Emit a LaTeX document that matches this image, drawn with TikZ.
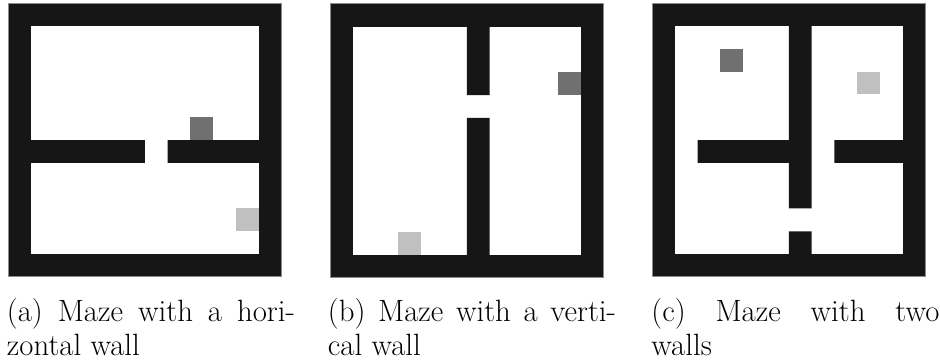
\documentclass[tikz,border=0pt]{standalone}
\usepackage{tikz}

\definecolor{wallc}{HTML}{161616}
\definecolor{edgec}{HTML}{8C8C8C}
\definecolor{startc}{HTML}{707070}
\definecolor{goalc}{HTML}{C0C0C0}

\tikzset{
  mazewall/.style={fill=wallc},
  mazeedge/.style={draw=edgec, line width=0.5pt},
  mazefloor/.style={fill=white},
  startcell/.style={fill=startc},
  goalcell/.style={fill=goalc},
  subcap/.style={inner sep=0pt, anchor=base west, font=\fontsize{15.4}{16.9}\selectfont},
  grid12/.style={x=11.4pt, y=-11.4pt}
}

\newcommand{\capbox}[1]{\parbox[t]{144pt}{#1}}

\begin{document}
\begin{tikzpicture}[x=0.5pt, y=-0.5pt]
  \useasboundingbox (0,0) rectangle (940,362);

  % (a) horizontal wall with a gap
  \begin{scope}[shift={(8,3.3)}, grid12]
    \fill[mazewall] (0,0) rectangle (12,12);
    \draw[mazeedge] (0,0) rectangle (12,12);
    \fill[mazefloor] (1,1) rectangle (11,11);
    \fill[mazewall] (1,6) rectangle (6,7) (7,6) rectangle (11,7);
    \fill[startcell] (8,5) rectangle (9,6);
    \fill[goalcell] (10,9) rectangle (11,10);
  \end{scope}

  % (b) vertical wall with a gap
  \begin{scope}[shift={(330,4)}, grid12]
    \fill[mazewall] (0,0) rectangle (12,12);
    \draw[mazeedge] (0,0) rectangle (12,12);
    \fill[mazefloor] (1,1) rectangle (11,11);
    \fill[mazewall] (6,1) rectangle (7,4) (6,5) rectangle (7,11);
    \fill[startcell] (10,3) rectangle (11,4);
    \fill[goalcell] (3,10) rectangle (4,11);
  \end{scope}

  % (c) two walls
  \begin{scope}[shift={(652,3.3)}, grid12]
    \fill[mazewall] (0,0) rectangle (12,12);
    \draw[mazeedge] (0,0) rectangle (12,12);
    \fill[mazefloor] (1,1) rectangle (11,11);
    \fill[mazewall] (6,1) rectangle (7,9) (6,10) rectangle (7,11);
    \fill[mazewall] (2,6) rectangle (6,7) (8,6) rectangle (11,7);
    \fill[startcell] (3,2) rectangle (4,3);
    \fill[goalcell] (9,3) rectangle (10,4);
  \end{scope}

  % sub-captions
  \node[subcap] (capA) at (6.5,321.5) {\capbox{(a) Maze with a hori-\linebreak zontal wall}};
  \node[subcap] (capB) at (327.5,321.5) {\capbox{(b) Maze with a verti-\linebreak cal wall}};
  \node[subcap] (capC) at (651,321.5) {\capbox{(c) Maze with two\linebreak walls}};
\end{tikzpicture}
\end{document}
